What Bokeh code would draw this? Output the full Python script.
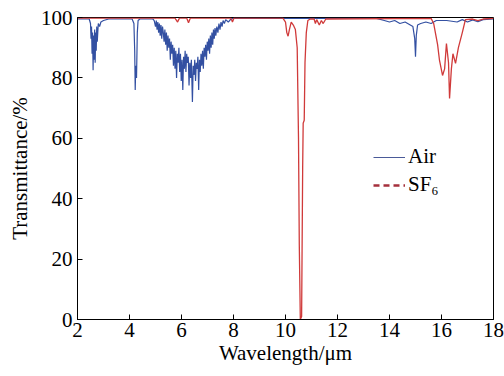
from bokeh.plotting import figure
from bokeh.models import Range1d, Legend, LegendItem, FixedTicker, ColumnDataSource, CDSView, IndexFilter
from bokeh.embed import file_html
from bokeh.resources import INLINE

# ---- data ----
air_wl = [2.0, 2.45, 2.5, 2.52, 2.54, 2.56, 2.58, 2.6, 2.62, 2.64, 2.66, 2.68, 2.7, 2.72,
          2.74, 2.76, 2.8, 2.85, 2.9, 3.0, 3.2, 4.1, 4.17, 4.2, 4.22, 4.24, 4.27, 4.3, 4.33,
          4.4, 4.9,
          4.95, 5.0, 5.03, 5.06, 5.09, 5.12, 5.15, 5.18, 5.21, 5.24, 5.27, 5.3, 5.33, 5.36,
          5.39, 5.42, 5.45, 5.48, 5.51, 5.54, 5.57, 5.6, 5.63, 5.66, 5.69, 5.72, 5.75, 5.78,
          5.81, 5.84, 5.87, 5.9, 5.93, 5.96, 5.99, 6.02, 6.05, 6.08, 6.11, 6.14, 6.17, 6.2,
          6.23, 6.26, 6.29, 6.32, 6.35, 6.38, 6.42, 6.45, 6.48, 6.51, 6.54, 6.57, 6.6, 6.63,
          6.66, 6.69, 6.72, 6.75, 6.78, 6.81, 6.84, 6.87, 6.9, 6.93, 6.96, 6.99, 7.02, 7.05,
          7.08, 7.11, 7.14, 7.17, 7.2, 7.23, 7.26, 7.29, 7.32, 7.36, 7.4, 7.44, 7.48, 7.52,
          7.56, 7.6, 7.65, 7.7, 7.8, 7.9, 8.0,
          13.5, 13.8, 14.0, 14.2, 14.4, 14.6, 14.8, 14.9, 14.97, 15.0, 15.03, 15.08, 15.2,
          15.4, 15.6, 15.8, 16.2, 16.6, 16.8, 17.0, 17.2, 17.4, 17.6, 18.0]
air_t = [99.5, 99.5, 98, 93, 97, 88, 95, 82.5, 94, 86, 96, 85, 95, 89,
         97, 92, 98, 97, 98.5, 99, 99.5, 99.5, 98, 89, 76, 84, 80, 95, 99,
         99.5, 99.5,
         99, 97, 99, 96, 98.5, 95, 98, 94, 97.5, 93, 97, 95, 92, 96,
         91, 95, 89, 94, 90, 93, 86, 92, 88, 91, 84, 90, 83, 89,
         80, 88, 85, 90, 82, 88, 79, 86, 76, 87, 83, 89, 82, 88,
         85, 87, 77.5, 85, 80, 86, 72, 84, 81, 86, 79, 85, 83, 87,
         76, 86, 82, 88, 84, 89, 83, 90, 87, 91, 86, 92, 89, 93,
         88, 94, 90, 95, 91, 96, 93, 96.5, 94, 97, 95, 98, 96, 98.5,
         97, 99, 98, 99.3, 98.5, 99.5, 99.7,
         99.7, 99, 98.5, 99, 98, 98.5, 97.5, 97, 93, 87, 94, 97.5, 98,
         98.5, 98, 99, 99, 98.5, 99.3, 98.5, 99.2, 98.6, 99.3, 99.5]

sf6_wl = [2.0, 5.75, 5.85, 5.92, 6.2, 6.27, 6.34, 7.9, 7.96, 8.02,
          9.9, 10.0, 10.05, 10.1, 10.15, 10.22, 10.3, 10.38, 10.45, 10.5, 10.53, 10.57,
          10.62, 10.66, 10.68, 10.72, 10.75, 10.8, 10.86, 10.95,
          11.1, 11.15, 11.2, 11.3, 11.38, 11.45, 11.55,
          15.6, 15.7, 15.85, 15.92, 16.04, 16.12, 16.19, 16.27, 16.31, 16.38, 16.44,
          16.54, 16.65, 16.8, 16.92, 17.2, 17.4, 17.6, 18.0]
sf6_t = [99.8, 99.8, 98.5, 99.8, 99.8, 98.3, 99.8, 99.8, 98.5, 99.8,
         99.8, 98.5, 95, 93.8, 96, 98.5, 97.5, 96, 90, 60, 25, 0,
         1, 50, 65, 66, 85, 95, 99, 99.5,
         99.5, 98, 99.3, 97.5, 99, 98, 99.5,
         99.7, 98, 91, 86, 80.8, 83, 91.4, 85, 73.2, 83, 88,
         84.8, 90, 95, 99.3, 99.5, 99, 99.5, 99.7]

x_ticks = [2, 4, 6, 8, 10, 12, 14, 16, 18]
y_ticks = [0, 20, 40, 60, 80, 100]

FONT = "'Liberation Serif', 'Times New Roman', serif"
FS = "21px"

p = figure(frame_width=416, frame_height=302, output_backend="svg", toolbar_location=None,
           x_range=Range1d(2, 18), y_range=Range1d(0, 100),
           min_border_left=77, min_border_right=11, min_border_top=17, min_border_bottom=57)
p.background_fill_color = "white"
p.border_fill_color = "white"
p.outline_line_color = "black"
p.outline_line_width = 1
p.grid.visible = False

air_src = ColumnDataSource(dict(x=air_wl, y=air_t))
sf6_src = ColumnDataSource(dict(x=sf6_wl, y=sf6_t))

air = p.line("x", "y", source=air_src, line_color="#3350a2", line_width=1.2)
sf6 = p.line("x", "y", source=sf6_src, line_color="#d03a3a", line_width=1.3)
# legend-only glyphs: the view keeps a single point, so no segment is drawn in the plot
air_leg = p.line("x", "y", source=air_src, view=CDSView(filter=IndexFilter(indices=[0])),
                 line_color="#4a5a98", line_width=1.2)
sf6_leg = p.line("x", "y", source=sf6_src, view=CDSView(filter=IndexFilter(indices=[0])),
                 line_color="#a5303c", line_width=2.5, line_dash="6 4")

for ax, ticks in ((p.xaxis[0], x_ticks), (p.yaxis[0], y_ticks)):
    ax.ticker = FixedTicker(ticks=ticks)
    ax.major_tick_in = 5
    ax.major_tick_out = 0
    ax.minor_tick_line_color = None
    ax.axis_line_color = "black"
    ax.major_tick_line_color = "black"
    ax.major_label_text_font = FONT
    ax.major_label_text_font_size = FS
    ax.major_label_text_color = "black"
    ax.axis_label_text_font = FONT
    ax.axis_label_text_font_size = FS
    ax.axis_label_text_font_style = "normal"
    ax.axis_label_text_color = "black"

p.xaxis[0].axis_label = "Wavelength/μm"
p.yaxis[0].axis_label = "Transmittance/%"
p.xaxis[0].major_label_standoff = 3
p.yaxis[0].major_label_standoff = 5
p.xaxis[0].axis_label_standoff = 1
p.yaxis[0].axis_label_standoff = 6

legend = Legend(items=[LegendItem(label="Air", renderers=[air_leg]),
                       LegendItem(label="SF₆", renderers=[sf6_leg])],
                location=(296, 122), orientation="vertical")
legend.background_fill_alpha = 0
legend.border_line_alpha = 0
legend.padding = 0
legend.margin = 0
legend.spacing = 3
legend.glyph_width = 32
legend.glyph_height = 20
legend.label_height = 20
legend.label_standoff = 3
legend.label_text_font = FONT
legend.label_text_font_size = FS
legend.label_text_color = "black"
p.add_layout(legend)

open("out.html", "w").write(file_html(p, INLINE))
